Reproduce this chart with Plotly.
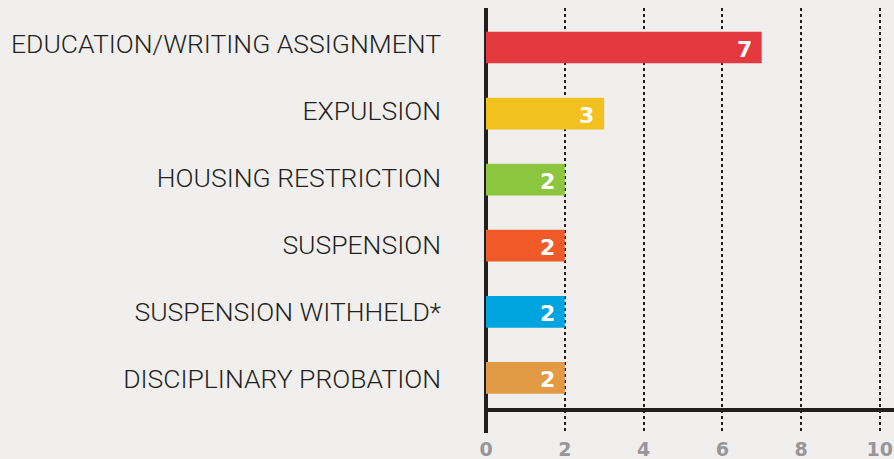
import plotly.graph_objects as go

categories = ["EDUCATION/WRITING ASSIGNMENT", "EXPULSION", "HOUSING RESTRICTION",
              "SUSPENSION", "SUSPENSION WITHHELD*", "DISCIPLINARY PROBATION"]
values = [7, 3, 2, 2, 2, 2]
colors = ["#e4383f", "#f2c11f", "#8cc63f", "#ef5a28", "#00a5df", "#e39a45"]
tick_vals = [0, 2, 4, 6, 8, 10]
tick_text = ["0", "2", "4", "6", "8", "10"]

BG = "#f0efed"
DARK = "#231f20"
idx = list(range(len(categories)))

fig = go.Figure()
# bars
fig.add_trace(go.Bar(
    x=values, y=idx, orientation="h", yaxis="y",
    marker=dict(color=colors, line=dict(width=0)), width=0.48,
    hoverinfo="skip",
))
# invisible carrier trace for category labels
fig.add_trace(go.Scatter(x=[0] * len(idx), y=idx, yaxis="y2", mode="markers",
                         marker=dict(opacity=0), hoverinfo="skip"))

for i, v in enumerate(values):
    fig.add_annotation(x=v, y=i, yref="y", text=str(v), showarrow=False, xanchor="right",
                       xshift=-8, yshift=-2,
                       font=dict(family="DejaVu Sans", size=22, color="white", weight="bold"))

# horizontal axis line
fig.add_shape(type="line", xref="paper", yref="paper", x0=0, x1=1, y0=0.054, y1=0.054,
              line=dict(color=DARK, width=4), layer="above")

fig.update_layout(
    width=894, height=459,
    margin=dict(l=486, r=0, t=8, b=26),
    paper_bgcolor=BG, plot_bgcolor=BG,
    showlegend=False,
    xaxis=dict(range=[0, 10.36], tickvals=tick_vals, ticktext=tick_text,
               showgrid=True, gridcolor=DARK, griddash="dot", gridwidth=2,
               zeroline=True, zerolinecolor=DARK, zerolinewidth=4,
               tickfont=dict(family="DejaVu Sans", size=19, color="#96979a", weight="bold"),
               ticks="", ticklabelstandoff=3, fixedrange=True),
    yaxis=dict(range=[5.835, -0.598], showticklabels=False,
               showgrid=False, zeroline=False, ticks="", fixedrange=True),
    yaxis2=dict(range=[5.802, -0.532], overlaying="y", side="left",
                tickvals=idx, ticktext=categories,
                showgrid=False, zeroline=False, ticks="", ticklabelstandoff=44,
                tickfont=dict(family="Roboto", size=26.5, color=DARK, weight=300),
                fixedrange=True),
)

fig.write_html("out.html", config={"displayModeBar": False},
               post_script="document.body.style.margin='0';document.body.style.background='#f0efed';")
